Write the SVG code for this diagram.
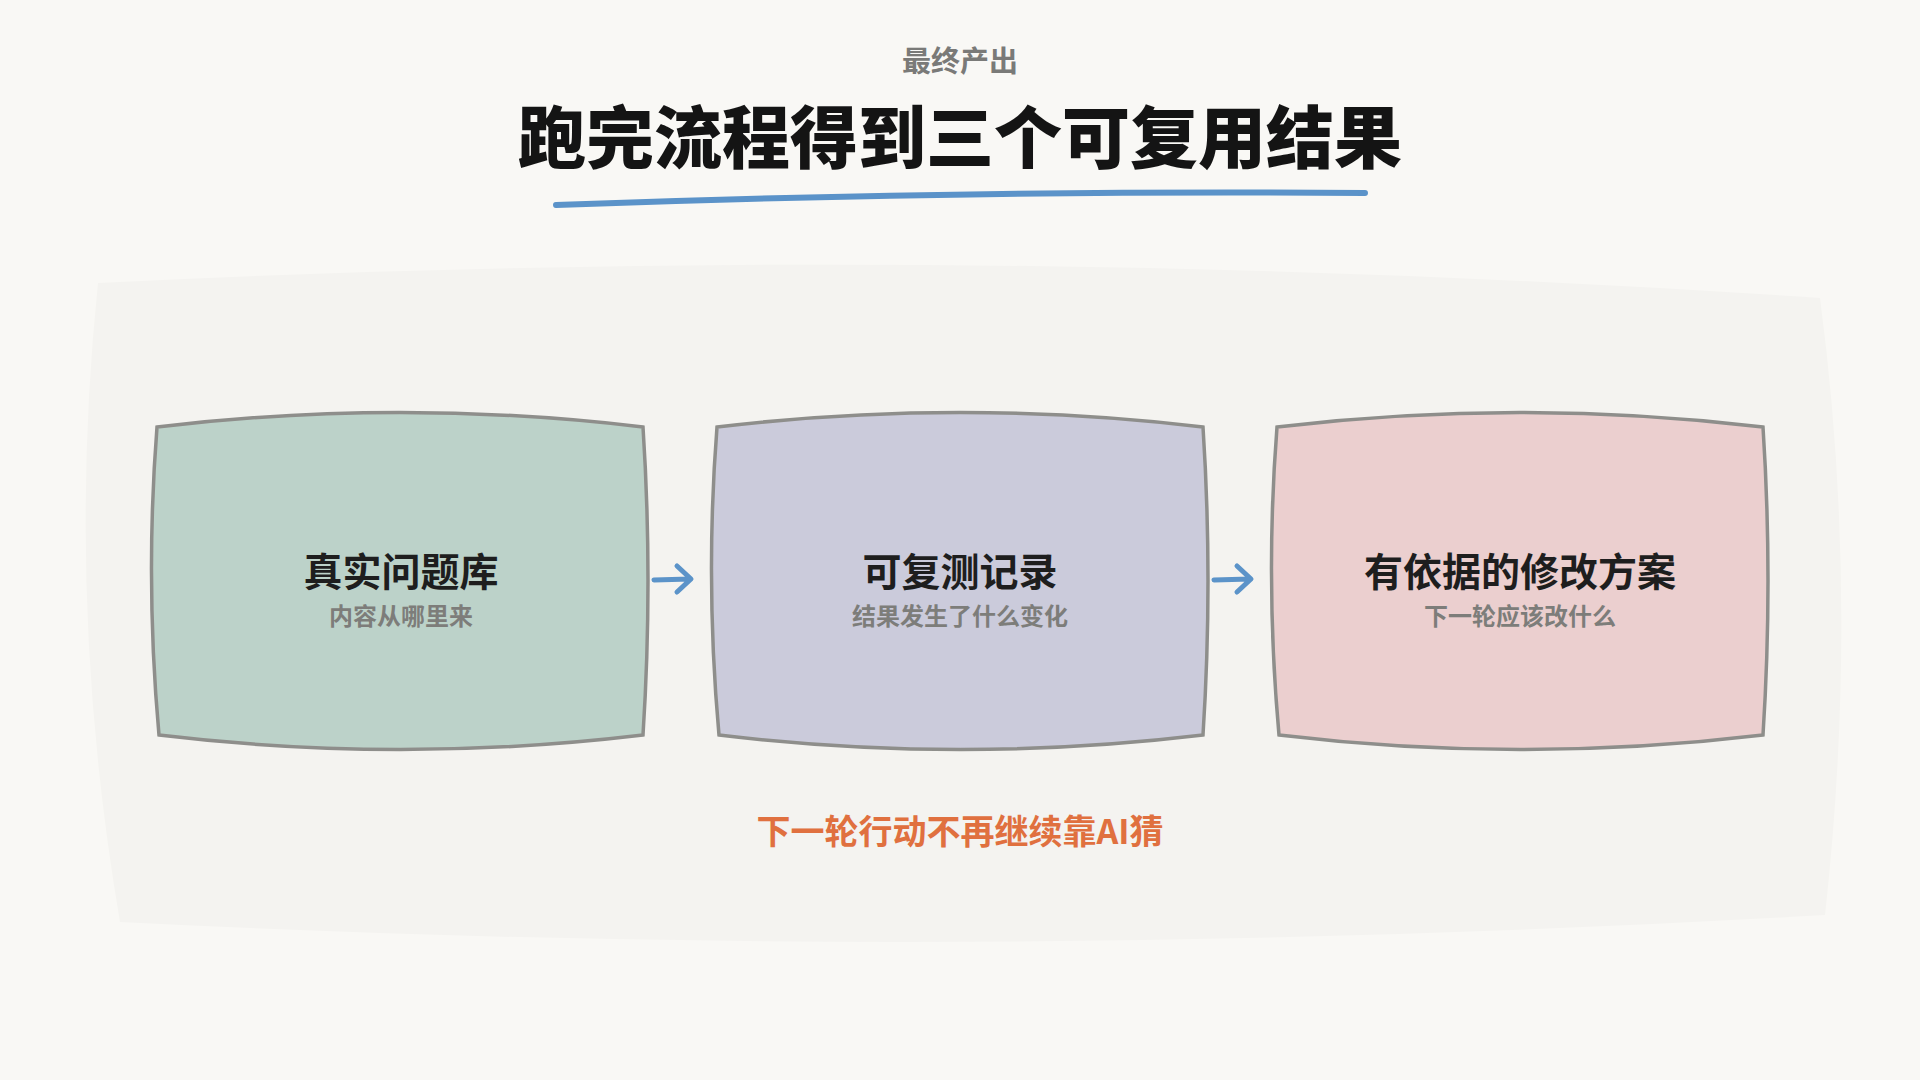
<svg xmlns="http://www.w3.org/2000/svg" width="1920" height="1080" viewBox="0 0 1920 1080">
<style>
text{font-family:"Noto Sans CJK SC","Noto Sans",sans-serif;text-anchor:middle}
.box{stroke:#8e8e8b;stroke-width:3.5}
.t{font-size:39px;font-weight:700;fill:#1e1e1e}
.s{font-size:24px;font-weight:700;fill:#7d7d7a}
.arr{fill:none;stroke:#5b93c9;stroke-width:5;stroke-linecap:round;stroke-linejoin:round}
</style>
<rect width="1920" height="1080" fill="#f9f8f5"/>
<path d="M98 283 Q960 240 1820 298 Q1860 600 1825 915 Q960 965 120 922 Q65 600 98 283 Z" fill="#f4f3f0"/>
<g id="header">
<text x="960" y="72" style="font-size:29px;font-weight:700;fill:#7a7a78">最终产出</text>
<text x="960" y="163" style="font-size:68px;font-weight:900;fill:#141414">跑完流程得到三个可复用结果</text>
<path d="M556 205 Q960 190 1365 193" fill="none" stroke="#5b93c9" stroke-width="6" stroke-linecap="round"/>
</g>
<g id="node1">
<path class="box" fill="#bcd2c9" d="M157 427 Q400 398 643 427 Q653 580 643 735 Q400 764 159 735 Q145 580 157 427 Z"/>
<text class="t" x="401" y="586">真实问题库</text>
<text class="s" x="401" y="625">内容从哪里来</text>
</g>
<g id="node2">
<path class="box" fill="#cbcbdb" d="M717 427 Q960 398 1203 427 Q1213 580 1203 735 Q960 764 719 735 Q705 580 717 427 Z"/>
<text class="t" x="960" y="586">可复测记录</text>
<text class="s" x="960" y="625">结果发生了什么变化</text>
</g>
<g id="node3">
<path class="box" fill="#ebcfcf" d="M1277 427 Q1520 398 1763 427 Q1773 580 1763 735 Q1520 764 1279 735 Q1265 580 1277 427 Z"/>
<text class="t" x="1520" y="586">有依据的修改方案</text>
<text class="s" x="1520" y="625">下一轮应该改什么</text>
</g>
<g id="connectors">
<path class="arr" d="M654 580 L690 579 M677 566 L691 579 L677 592"/>
<path class="arr" d="M1214 580 L1250 579 M1237 566 L1251 579 L1237 592"/>
</g>
<g id="footer">
<text x="960" y="844" style="font-size:34px;font-weight:700;fill:#e0703f">下一轮行动不再继续靠AI猜</text>
</g>
</svg>
